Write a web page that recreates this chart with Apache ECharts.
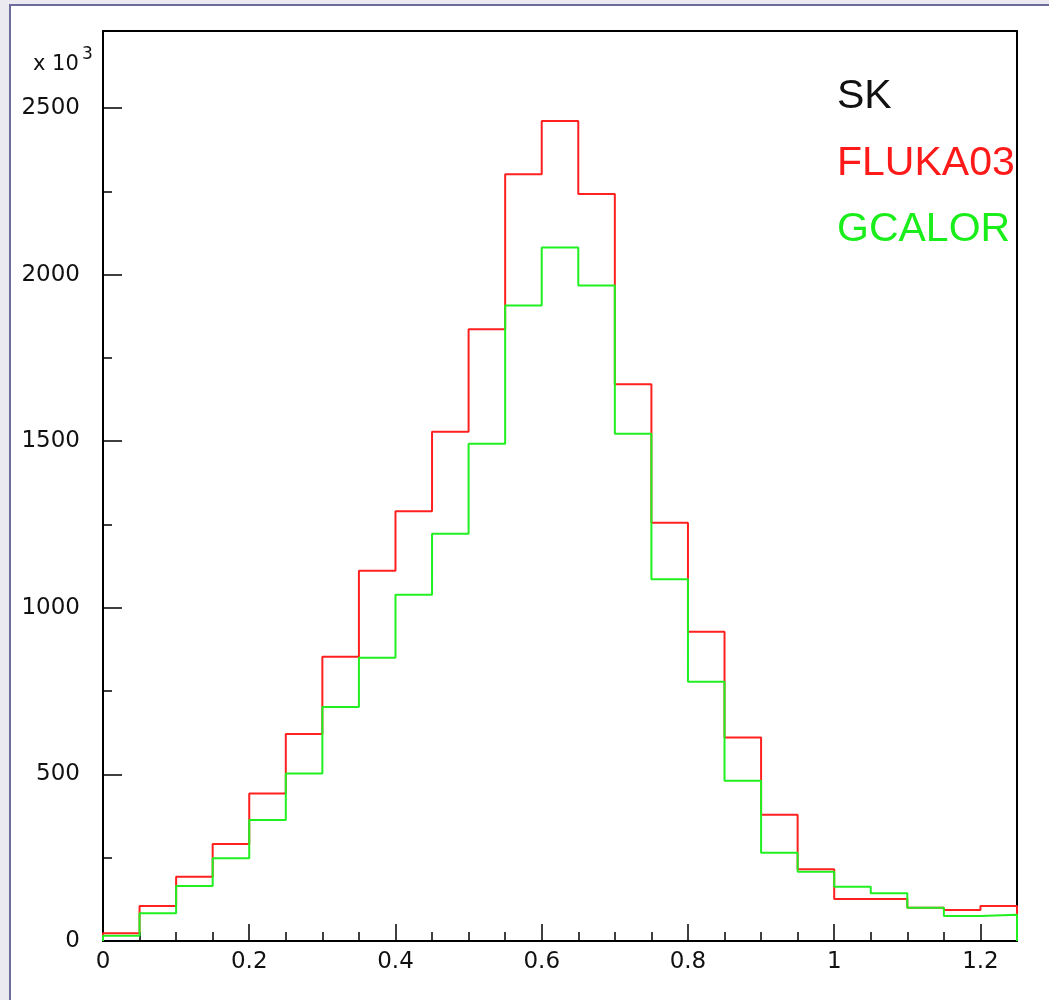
<!DOCTYPE html>
<html>
<head>
<meta charset="utf-8">
<script src="https://cdn.jsdelivr.net/npm/echarts@6/dist/echarts.min.js"></script>
<style>
html,body{margin:0;padding:0;background:#ebeaf1;}
#chart{width:1049px;height:1000px;}
</style>
</head>
<body>
<div id="chart"></div>
<script>
// Bin edges (x), 25 bins of width 0.05 from 0 to 1.25
const binEdges = [0,0.05,0.1,0.15,0.2,0.25,0.3,0.35,0.4,0.45,0.5,0.55,0.6,0.65,0.7,0.75,0.8,0.85,0.9,0.95,1.0,1.05,1.1,1.15,1.2,1.25];
// Bin contents (x 10^3)
const flukaValues = [23,105,193,291,443,621,853,1111,1290,1528,1836,2301,2461,2242,1671,1255,928,611,379,215,126,126,100,93,105];
const gcalorValues = [16,83,165,248,363,503,702,850,1039,1222,1492,1907,2081,1967,1522,1086,778,481,265,208,163,143,100,75,79];
const seriesNames = ['FLUKA03','GCALOR'];
const titleText = 'SK';
const xTickInterval = 0.2;
const yTickInterval = 500;

function histPoints(edges, vals){
  const pts = [[edges[0], 0]];
  for (let i = 0; i < vals.length; i++){
    pts.push([edges[i], vals[i]]);
    pts.push([edges[i+1], vals[i]]);
  }
  pts.push([edges[edges.length-1], 0]);
  return pts;
}

const chart = echarts.init(document.getElementById('chart'), null, {renderer:'canvas'});
const labelFont = {fontFamily:'DejaVu Sans', fontSize:23, color:'#111'};
const option = {
  animation:false,
  backgroundColor:'#ebeaf1',
  grid:{left:103, top:31, right:32, bottom:59, show:true, borderColor:'#000', borderWidth:2, backgroundColor:'transparent'},
  xAxis:{
    type:'value', min:0, max:1.25, interval:xTickInterval,
    axisLine:{show:true, onZero:false, lineStyle:{color:'#000', width:2}},
    axisTick:{show:true, inside:true, length:17, lineStyle:{color:'#000', width:1.5}},
    minorTick:{show:true, splitNumber:4, length:9, lineStyle:{color:'#000', width:1.5}},
    splitLine:{show:false},
    axisLabel:Object.assign({margin:10, showMaxLabel:false, formatter:function(v){return String(+v.toFixed(2));}}, labelFont)
  },
  yAxis:{
    type:'value', min:0, max:2731, interval:yTickInterval,
    axisLine:{show:true, onZero:false, lineStyle:{color:'#000', width:2}},
    axisTick:{show:true, inside:true, length:19, lineStyle:{color:'#000', width:1.5}},
    minorTick:{show:true, splitNumber:2, length:9, lineStyle:{color:'#000', width:1.5}},
    splitLine:{show:false},
    axisLabel:Object.assign({margin:23, showMaxLabel:false, formatter:function(v){return String(v);}}, labelFont)
  },
  graphic:[
    {type:'rect', z:-10, silent:true, shape:{x:10, y:5, width:1100, height:1100}, style:{fill:'#ffffff', stroke:'#6b6b9c', lineWidth:2}},
    {type:'text', left:33, top:54, style:{text:'x 10', font:'21px "DejaVu Sans"', fill:'#111'}},
    {type:'text', left:82, top:46, style:{text:'3', font:'17px "DejaVu Sans"', fill:'#111'}},
    {type:'text', left:837, top:76, style:{text:titleText, font:'41px "Liberation Sans"', fill:'#111'}},
    {type:'text', left:837, top:143, style:{text:seriesNames[0], font:'41px "Liberation Sans"', fill:'#ff1a1a'}},
    {type:'text', left:837, top:209, style:{text:seriesNames[1], font:'41px "Liberation Sans"', fill:'#1aee1a'}}
  ],
  series:[
    {name:seriesNames[0], type:'line', data:histPoints(binEdges, flukaValues), showSymbol:false, symbol:'none',
     lineStyle:{color:'#ff2020', width:2}, z:2},
    {name:seriesNames[1], type:'line', data:histPoints(binEdges, gcalorValues), showSymbol:false, symbol:'none',
     lineStyle:{color:'#20f020', width:2}, z:3}
  ]
};
chart.setOption(option);
</script>
</body>
</html>
